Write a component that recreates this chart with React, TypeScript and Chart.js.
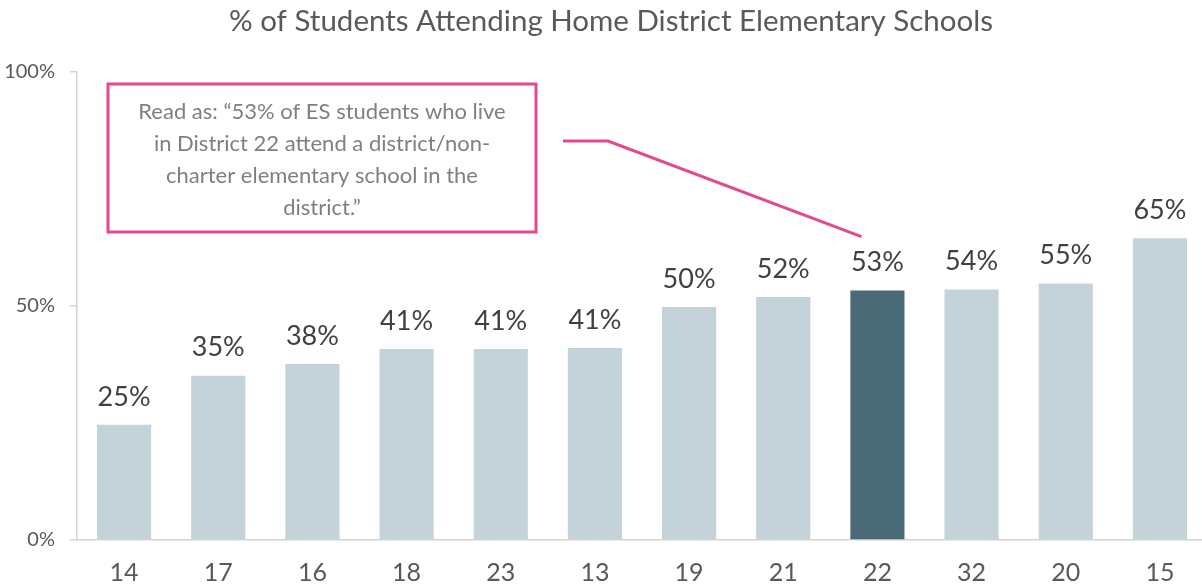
import { useEffect, useRef } from "react";
import { Chart, registerables } from "chart.js";

Chart.register(...registerables);

const categories = ["14", "17", "16", "18", "23", "13", "19", "21", "22", "32", "20", "15"];
const values = [24.6, 35.1, 37.6, 40.8, 40.8, 41.0, 49.8, 51.9, 53.3, 53.5, 54.8, 64.5];
const highlightCategory = "22";
const yTickValues = [0, 50, 100];
const chartTitle = "% of Students Attending Home District Elementary Schools";
const noteLines = [
  "Read as: \u201c53% of ES students who live",
  "in District 22 attend a district/non-",
  "charter elementary school in the",
  "district.\u201d",
];

const FONT = "Lato, 'Noto Sans', sans-serif";
const LIGHT = "#C4D3DA";
const DARK = "#4A6A77";
const PINK = "#E2498F";

export default function App() {
  const ref = useRef<HTMLCanvasElement | null>(null);

  useEffect(() => {
    const canvas = ref.current;
    if (!canvas) return;

    const decorations = {
      id: "decorations",
      afterDatasetsDraw(chart: any) {
        const ctx = chart.ctx;
        const meta = chart.getDatasetMeta(0);
        ctx.save();
        ctx.fillStyle = "#404040";
        ctx.font = `27px ${FONT}`;
        ctx.textAlign = "center";
        ctx.textBaseline = "middle";
        meta.data.forEach((bar: any, i: number) => {
          ctx.fillText(`${Math.round(values[i])}%`, bar.x, bar.y - 28);
        });
        ctx.restore();
      },
      afterDraw(chart: any) {
        const ctx = chart.ctx;
        const meta = chart.getDatasetMeta(0);
        ctx.save();
        ctx.fillStyle = "#595959";
        ctx.font = `29.5px ${FONT}`;
        ctx.textAlign = "center";
        ctx.textBaseline = "middle";
        ctx.fillText(chartTitle, 611, 21);

        ctx.strokeStyle = PINK;
        ctx.lineWidth = 3;
        ctx.strokeRect(108, 84, 428, 148);
        ctx.fillStyle = "#7F7F7F";
        ctx.font = `22px ${FONT}`;
        noteLines.forEach((line, i) => {
          ctx.fillText(line, 322, 112 + i * 32);
        });

        const idx = categories.indexOf(highlightCategory);
        const bar = meta.data[idx];
        ctx.beginPath();
        ctx.moveTo(563, 141);
        ctx.lineTo(608, 141);
        ctx.lineTo(bar.x - 16, bar.y - 54);
        ctx.stroke();
        ctx.restore();
      },
    };

    const chart = new Chart(canvas, {
      type: "bar",
      data: {
        labels: categories,
        datasets: [
          {
            data: values,
            backgroundColor: categories.map((c) => (c === highlightCategory ? DARK : LIGHT)),
            borderWidth: 0,
            barPercentage: 0.575,
            categoryPercentage: 1,
          },
        ],
      },
      options: {
        responsive: false,
        animation: false,
        layout: { padding: { top: 72, left: 0, right: 3, bottom: 0 } },
        plugins: {
          legend: { display: false },
          title: { display: false },
          tooltip: { enabled: false },
        },
        scales: {
          x: {
            afterFit: (s: any) => {
              s.height = 48;
            },
            grid: { display: false, drawTicks: false, drawOnChartArea: false },
            border: { display: true, color: "#D4D4D4", width: 1.5 },
            ticks: {
              color: "#595959",
              font: { family: FONT, size: 25 },
              padding: 18,
            },
          },
          y: {
            min: 0,
            max: 100,
            afterFit: (s: any) => {
              s.width = 77;
            },
            afterBuildTicks: (s: any) => {
              s.ticks = yTickValues.map((v) => ({ value: v }));
            },
            grid: {
              display: true,
              drawOnChartArea: false,
              drawTicks: true,
              tickLength: 7,
              color: "#D4D4D4",
              lineWidth: 1.5,
            },
            border: { display: true, color: "#D4D4D4", width: 1.5 },
            ticks: {
              color: "#595959",
              font: { family: FONT, size: 20 },
              padding: 15,
              callback: (v: any) => `${v}%`,
            },
          },
        },
      },
      plugins: [decorations],
    });

    return () => chart.destroy();
  }, []);

  return (
    <div
      style={{
        position: "absolute",
        left: 0,
        top: 0,
        width: 1202,
        height: 588,
        overflow: "hidden",
        background: "#fff",
      }}
    >
      <canvas ref={ref} width={1210} height={588} style={{ display: "block" }} />
    </div>
  );
}
